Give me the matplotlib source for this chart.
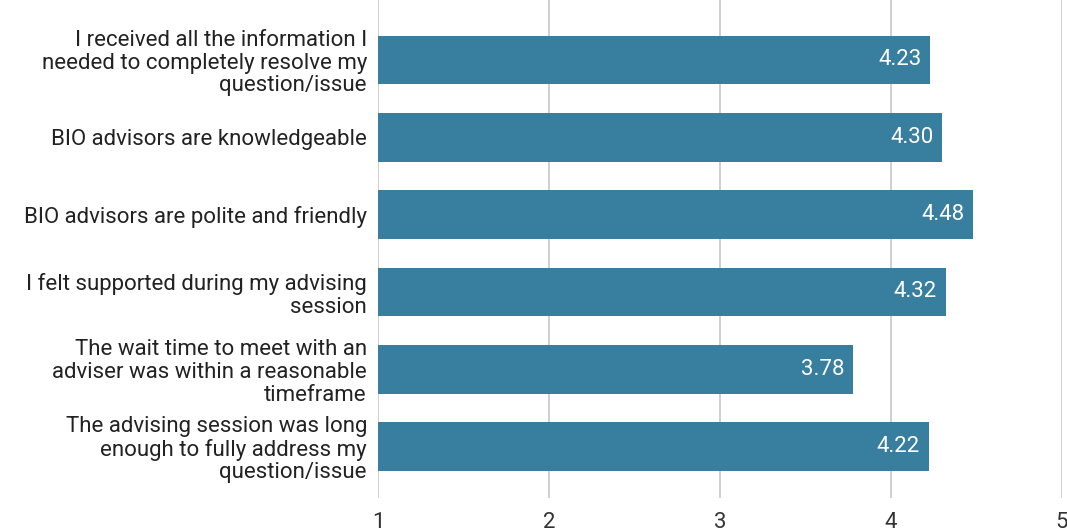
import matplotlib.pyplot as plt

plt.rcParams['font.family'] = ['Roboto', 'DejaVu Sans']

# survey statements and their mean scores (scale 1 to 5)
statements = [
    "I received all the information I\nneeded to completely resolve my\nquestion/issue",
    "BIO advisors are knowledgeable",
    "BIO advisors are polite and friendly",
    "I felt supported during my advising\nsession",
    "The wait time to meet with an\nadviser was within a reasonable\ntimeframe",
    "The advising session was long\nenough to fully address my\nquestion/issue",
]
scores = [4.23, 4.30, 4.48, 4.32, 3.78, 4.22]
ticks = [1, 2, 3, 4, 5]

bar_color = "#377e9f"

fig = plt.figure(figsize=(10.67, 5.31), dpi=100)
ax = fig.add_axes([0.3543, 0.0621, 0.641, 0.9379])

ypos = list(range(len(statements)))
ax.barh(ypos, [s - 1 for s in scores], left=1, height=0.63, color=bar_color, zorder=3)

for y, s in zip(ypos, scores):
    ax.annotate(f"{s:.2f}", xy=(s, y), xytext=(-9, 0), textcoords="offset pixels",
                ha="right", va="center", color="white", fontsize=16, zorder=4)

ax.set_xlim(1, 5)
ax.set_ylim(5.666, -0.776)
ax.set_xticks(ticks)
ax.set_xticklabels([str(t) for t in ticks], fontsize=16, color="#333333")
ax.set_yticks(ypos)
ax.set_yticklabels(statements, fontsize=16, color="#222222", linespacing=1.1)
ax.tick_params(axis="both", length=0)
ax.tick_params(axis="x", pad=10)
ax.tick_params(axis="y", pad=8)

ax.grid(axis="x", color="#cccccc", linewidth=1.3, zorder=0)
for side in ["top", "right", "bottom", "left"]:
    ax.spines[side].set_visible(False)

fig.savefig("out.png", dpi=100)
